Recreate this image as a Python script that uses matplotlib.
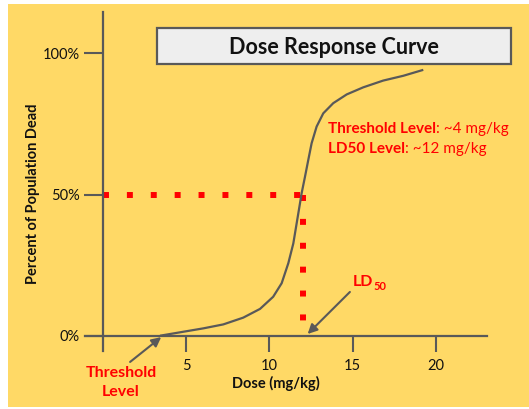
import numpy as np
import matplotlib
matplotlib.use("Agg")
import matplotlib.pyplot as plt
from matplotlib.patches import Rectangle

plt.rcParams['font.family'] = ['Lato', 'DejaVu Sans']

# dose response curve
dose = [3.43, 4.83, 6.03, 7.23, 8.43, 9.44, 10.23, 10.74, 11.14, 11.44, 11.64,
        11.84, 11.94, 12.14, 12.34, 12.54, 12.84, 13.24, 13.84, 14.65, 15.64,
        16.84, 18.05, 19.25]
pct_dead = [0, 1.4, 2.6, 4.0, 6.4, 9.5, 13.8, 18.6, 25.7, 32.7, 39.8,
            46.9, 50.5, 56.3, 62.3, 68.2, 74.1, 78.8, 82.4, 85.5, 88.0,
            90.4, 92.1, 94.2]

x_ticks = [5, 10, 15, 20]
y_ticks = [0, 50, 100]
y_ticklabels = ['0%', '50%', '100%']

threshold_dose = 3.5
ld50_dose = 12
ld50_pct = 50

YELLOW = '#ffd966'
GRAY = '#595959'
RED = '#ff0000'

fig = plt.figure(figsize=(5.29, 4.09), dpi=100)
fig.patch.set_facecolor('white')
fig.patches.append(Rectangle((8/529, 0.005), 1, 1 - 4/409 - 0.005, transform=fig.transFigure,
                             facecolor=YELLOW, edgecolor='none', zorder=-10))

ax = fig.add_axes([85/529, 58/409, 402/529, 339/409])
ax.set_facecolor('none')
ax.set_xlim(-1.08, 23.08)
ax.set_ylim(-5.42, 114.7)

for s in ['top', 'right']:
    ax.spines[s].set_visible(False)
ax.spines['left'].set_position(('data', 0))
ax.spines['bottom'].set_position(('data', 0))
for s in ['left', 'bottom']:
    ax.spines[s].set_color(GRAY)
    ax.spines[s].set_linewidth(1.6)

ax.set_xticks(x_ticks)
ax.set_yticks(y_ticks)
ax.set_yticklabels(y_ticklabels)
ax.tick_params(axis='x', direction='out', length=11.5, width=1.5, color=GRAY, pad=5,
               labelsize=10.5, labelcolor='#111111')
ax.tick_params(axis='y', direction='out', length=13.7, width=1.5, color=GRAY, pad=3,
               labelsize=10.5, labelcolor='#111111')

ax.set_xlabel('Dose (mg/kg)', fontsize=10.5, fontweight='bold', color='#111111')
ax.xaxis.set_label_coords(0.475, -0.075)
ax.set_ylabel('Percent of Population Dead', fontsize=10.5, fontweight='bold', color='#111111')
ax.yaxis.set_label_coords(-0.113, 0.465)

# red dotted guides to LD50
ax.plot([0, ld50_dose], [ld50_pct, ld50_pct], color=RED, lw=4.3,
        linestyle=(0, (1, 3)), dash_capstyle='butt', zorder=2)
ax.plot([ld50_dose, ld50_dose], [ld50_pct, 5], color=RED, lw=4.3,
        linestyle=(0, (1, 3)), dash_capstyle='butt', zorder=2)

ax.plot(dose, pct_dead, color=GRAY, lw=1.6, zorder=3, solid_capstyle='butt')

# title box
fig.patches.append(Rectangle((157.3/529, 1 - 64/409), (511 - 157.3)/529, (64 - 28.3)/409,
                             transform=fig.transFigure, facecolor='#eeeeee',
                             edgecolor=GRAY, linewidth=1.6, zorder=1))
fig.text(334.2/529, 1 - 54/409, 'Dose Response Curve', ha='center', va='baseline',
         fontsize=15.5, fontweight='bold', color='#111111', zorder=5)

# notes
t1 = ax.text(13.52, 71.9, 'Threshold Level', color=RED, fontsize=11, fontweight='bold',
             va='baseline')
ax.annotate(': ~4 mg/kg', xy=(1, 0), xycoords=t1, va='bottom', color=RED, fontsize=11)
t2 = ax.text(13.52, 64.8, 'LD50 Level', color=RED, fontsize=11, fontweight='bold',
             va='baseline')
ax.annotate(': ~12 mg/kg', xy=(1, 0), xycoords=t2, va='bottom', color=RED, fontsize=11)

# threshold arrow
ax.annotate('', xy=(threshold_dose, -0.5), xytext=(1.63, -9.3),
            arrowprops=dict(arrowstyle='-|>', color=GRAY, lw=1.5, mutation_scale=14,
                            shrinkA=0, shrinkB=0), annotation_clip=False)
ax.text(1.08, -14.5, 'Threshold', color=RED, fontsize=11.5, fontweight='bold',
        ha='center', va='baseline')
ax.text(1.08, -21.3, 'Level', color=RED, fontsize=11.5, fontweight='bold',
        ha='center', va='baseline')

# LD50 arrow
ax.annotate('', xy=(12.3, 0.6), xytext=(14.84, 15.5),
            arrowprops=dict(arrowstyle='-|>', color=GRAY, lw=1.5, mutation_scale=14,
                            shrinkA=0, shrinkB=0))
t3 = ax.text(15.02, 17.6, 'LD', color=RED, fontsize=11.5, fontweight='bold', va='baseline')
ax.annotate('50', xy=(1, 0), xycoords=t3, xytext=(0, -0.5), textcoords='offset points',
            va='baseline', color=RED, fontsize=8, fontweight='bold')

fig.savefig('out.png', dpi=100)
